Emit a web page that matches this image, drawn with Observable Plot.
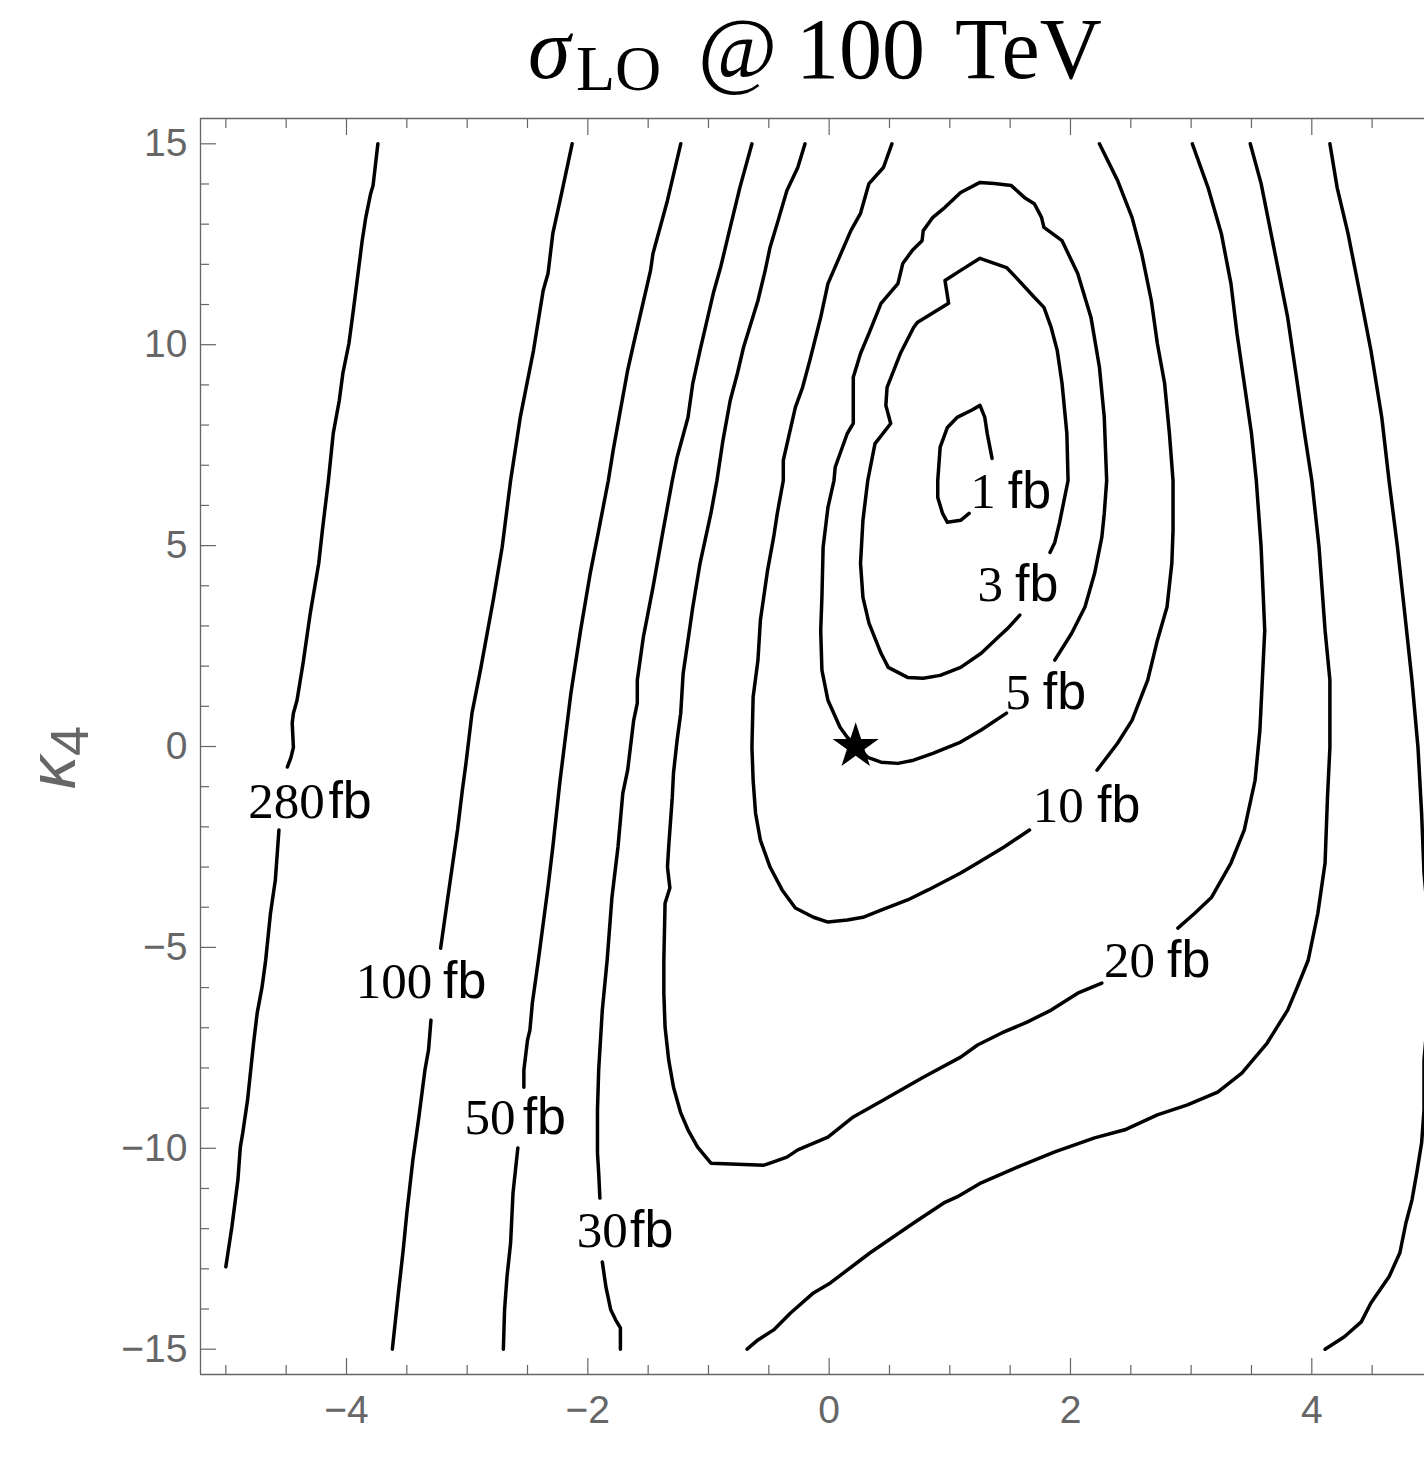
<!DOCTYPE html>
<html><head><meta charset="utf-8">
<script src="https://cdn.jsdelivr.net/npm/d3@7"></script>
<script src="https://cdn.jsdelivr.net/npm/@observablehq/plot@0.6"></script>
<style>html,body{margin:0;padding:0;background:#fff;overflow:hidden}</style>
</head><body><div id="chart"></div>
<script>
// ---- contour lines (data coordinates), each an array of open segments ----
const fb280 = [
 [[-3.74,15.0],[-3.78,13.96],[-3.80,13.76],[-3.84,13.17],[-3.87,12.59],[-3.94,10.93],[-3.98,10.03],[-4.03,9.29],[-4.06,8.61],[-4.11,7.79],[-4.15,6.62],[-4.20,5.38],[-4.23,4.56],[-4.30,3.32],[-4.36,2.07],[-4.41,1.15],[-4.44,0.83],[-4.45,0.58],[-4.44,-0.02],[-4.46,-0.27],[-4.49,-0.51]],
 [[-4.56,-2.08],[-4.59,-3.33],[-4.63,-4.15],[-4.67,-5.32],[-4.70,-5.99],[-4.74,-6.63],[-4.77,-7.38],[-4.80,-8.23],[-4.82,-8.80],[-4.86,-9.62],[-4.88,-9.97],[-4.90,-10.79],[-4.95,-11.96],[-5.00,-12.95]]
];
const fb100 = [
 [[-2.13,15.0],[-2.23,13.59],[-2.29,12.77],[-2.33,11.77],[-2.37,11.35],[-2.45,9.86],[-2.56,8.19],[-2.64,6.62],[-2.71,4.96],[-2.78,3.71],[-2.89,1.90],[-2.96,0.83],[-3.01,-0.42],[-3.04,-1.09],[-3.08,-2.08],[-3.16,-3.75],[-3.22,-5.02]],
 [[-3.30,-6.81],[-3.32,-7.55],[-3.35,-8.05],[-3.40,-9.22],[-3.45,-10.29],[-3.50,-11.61],[-3.53,-12.53],[-3.57,-13.60],[-3.62,-15.0]]
];
const fb50 = [
 [[-1.23,15.0],[-1.34,13.59],[-1.46,12.27],[-1.48,11.85],[-1.62,10.03],[-1.67,9.36],[-1.73,8.37],[-1.79,7.37],[-1.83,6.62],[-1.91,5.38],[-1.98,4.31],[-2.06,2.89],[-2.14,1.33],[-2.23,-0.84],[-2.29,-2.50],[-2.33,-3.50],[-2.41,-5.32],[-2.46,-6.39],[-2.48,-7.06],[-2.50,-7.31],[-2.53,-8.05],[-2.53,-8.48]],
 [[-2.58,-9.99],[-2.62,-11.11],[-2.64,-12.36],[-2.67,-13.20],[-2.69,-14.02],[-2.70,-15.0]],
 [[4.15,15.0],[4.21,13.91],[4.30,12.77],[4.41,11.10],[4.49,9.86],[4.58,8.19],[4.64,6.62],[4.71,4.96],[4.77,3.32],[4.83,1.65],[4.88,-0.02],[4.91,-1.66],[4.93,-3.15],[5.00,-5.44],[4.93,-7.80],[4.93,-9.05],[4.91,-9.87],[4.87,-10.61],[4.83,-11.29],[4.78,-11.86],[4.73,-12.60],[4.64,-13.20],[4.49,-13.85],[4.41,-14.32],[4.27,-14.69],[4.11,-15.0]]
];
const fb30 = [
 [[-0.64,15.0],[-0.74,13.91],[-0.82,12.92],[-0.90,11.92],[-0.96,11.28],[-1.07,9.86],[-1.13,9.04],[-1.17,8.19],[-1.26,7.20],[-1.30,6.62],[-1.38,5.31],[-1.46,3.96],[-1.54,2.72],[-1.59,1.65],[-1.59,1.08],[-1.62,0.65],[-1.67,-0.59],[-1.71,-1.16],[-1.75,-2.50],[-1.80,-3.75],[-1.84,-5.32],[-1.88,-6.56],[-1.91,-8.05],[-1.92,-9.05],[-1.92,-10.12],[-1.91,-10.61],[-1.90,-11.24]],
 [[-1.88,-12.83],[-1.85,-13.45],[-1.81,-14.02],[-1.77,-14.27],[-1.73,-14.47],[-1.73,-15.0]],
 [[3.49,15.0],[3.58,14.01],[3.69,12.35],[3.80,10.68],[3.88,9.04],[3.94,7.79],[4.00,6.62],[4.06,4.96],[4.11,2.89],[4.15,1.65],[4.15,-0.02],[4.13,-1.26],[4.11,-2.90],[4.05,-4.15],[3.97,-5.32],[3.88,-5.99],[3.80,-6.56],[3.63,-7.38],[3.42,-8.13],[3.22,-8.60],[2.97,-8.92],[2.72,-9.17],[2.45,-9.54],[2.20,-9.74],[1.87,-10.09],[1.56,-10.47],[1.26,-10.86],[1.06,-11.21],[0.95,-11.36],[0.70,-11.86],[0.34,-12.60],[0.01,-13.35],[-0.13,-13.60],[-0.32,-14.10],[-0.46,-14.52],[-0.59,-14.77],[-0.68,-15.0]]
];
const fb20 = [
 [[-0.20,15.0],[-0.26,14.41],[-0.35,13.84],[-0.43,13.02],[-0.49,12.42],[-0.53,11.85],[-0.59,11.10],[-0.71,9.93],[-0.76,9.29],[-0.82,8.61],[-0.88,7.62],[-0.93,6.62],[-0.98,5.80],[-1.07,4.56],[-1.13,3.47],[-1.17,2.64],[-1.21,1.82],[-1.23,0.83],[-1.26,0.16],[-1.29,-0.66],[-1.30,-1.26],[-1.33,-2.50],[-1.34,-3.00],[-1.32,-3.52],[-1.36,-3.90],[-1.37,-5.32],[-1.37,-6.14],[-1.36,-6.98],[-1.33,-7.80],[-1.29,-8.48],[-1.23,-9.12],[-1.17,-9.54],[-1.09,-9.97],[-0.98,-10.37],[-0.54,-10.42],[-0.49,-10.37],[-0.35,-10.22],[-0.26,-10.04],[-0.01,-9.72],[0.20,-9.22],[0.45,-8.80],[0.78,-8.23],[1.09,-7.73],[1.23,-7.43],[1.43,-7.13],[1.64,-6.86],[1.84,-6.56],[2.06,-6.14],[2.26,-5.89]],
 [[2.89,-4.52],[3.03,-4.15],[3.17,-3.75],[3.33,-2.90],[3.44,-2.08],[3.53,-0.84],[3.57,0.41],[3.59,1.65],[3.61,2.89],[3.58,4.96],[3.54,6.62],[3.50,7.79],[3.44,9.04],[3.38,10.28],[3.33,11.52],[3.25,12.77],[3.14,13.91],[3.01,15.0]]
];
const fb10 = [
 [[0.52,15.0],[0.45,14.41],[0.33,14.01],[0.26,13.27],[0.18,12.84],[-0.01,11.52],[-0.07,10.68],[-0.16,9.61],[-0.22,8.94],[-0.28,8.44],[-0.38,7.12],[-0.38,6.62],[-0.43,5.80],[-0.46,5.21],[-0.51,4.39],[-0.57,3.14],[-0.59,2.15],[-0.63,1.23],[-0.64,-0.02],[-0.63,-0.84],[-0.61,-1.66],[-0.57,-2.33],[-0.49,-3.00],[-0.39,-3.57],[-0.28,-4.02],[-0.13,-4.25],[-0.01,-4.37],[0.15,-4.32],[0.28,-4.25],[0.43,-4.07],[0.65,-3.82],[0.82,-3.57],[1.09,-3.15],[1.23,-2.90],[1.45,-2.50],[1.66,-2.08]],
 [[2.22,-0.59],[2.39,0.08],[2.51,0.65],[2.64,1.65],[2.72,2.64],[2.80,3.47],[2.84,4.56],[2.85,5.38],[2.85,6.62],[2.82,7.79],[2.78,9.04],[2.72,10.03],[2.67,11.10],[2.59,12.27],[2.51,13.17],[2.39,14.09],[2.24,15.0]]
];
const fb5 = [
 [[1.87,2.15],[2.01,2.82],[2.12,3.47],[2.20,4.31],[2.26,5.21],[2.28,5.80],[2.30,6.62],[2.28,8.19],[2.24,9.44],[2.17,10.68],[2.06,11.77],[1.93,12.59],[1.78,12.92],[1.76,13.17],[1.70,13.51],[1.62,13.66],[1.51,13.96],[1.37,14.01],[1.25,14.04],[1.09,13.79],[0.96,13.42],[0.86,13.17],[0.78,12.84],[0.77,12.59],[0.69,12.35],[0.61,12.02],[0.57,11.52],[0.43,11.03],[0.33,10.28],[0.26,9.78],[0.20,9.19],[0.20,8.04],[0.15,7.79],[0.05,6.95],[0.04,6.62],[-0.01,5.95],[-0.05,4.96],[-0.06,3.71],[-0.07,2.89],[-0.06,1.90],[-0.01,1.15],[0.09,0.48],[0.15,0.23],[0.32,-0.27],[0.43,-0.39],[0.57,-0.42],[0.70,-0.34],[0.86,-0.17],[1.09,0.11],[1.26,0.41],[1.47,0.83]]
];
const fb3 = [
 [[1.58,3.27],[1.48,2.94],[1.40,2.72],[1.26,2.32],[1.09,1.97],[0.92,1.77],[0.78,1.70],[0.65,1.72],[0.49,1.97],[0.43,2.32],[0.33,3.07],[0.28,3.71],[0.26,4.56],[0.28,5.63],[0.32,6.62],[0.38,7.54],[0.51,8.04],[0.47,8.49],[0.48,8.94],[0.59,9.78],[0.70,10.43],[0.73,10.55],[0.99,11.03],[0.96,11.60],[1.09,11.85],[1.25,12.15],[1.47,11.92],[1.55,11.67],[1.70,11.18],[1.78,10.93],[1.84,10.43],[1.89,9.86],[1.93,9.04],[1.97,7.79],[1.98,6.62],[1.91,5.58],[1.87,5.08],[1.83,4.83]]
];
const fb1 = [
 [[1.35,7.17],[1.31,7.79],[1.29,8.19],[1.25,8.49],[1.18,8.37],[1.06,8.19],[0.98,7.94],[0.92,7.45],[0.90,6.62],[0.90,6.20],[0.94,5.80],[0.98,5.58],[1.09,5.63],[1.16,5.80]]
];

// ---- contour labels ----
const labelValues   = ["280", "100", "50", "30", "20", "10", "5", "3", "1"];
const labelNumEndX  = [-4.18, -3.29, -2.60, -1.67, 2.70, 2.11, 1.67, 1.44, 1.38];
const labelFbStartX = [-4.15, -3.20, -2.54, -1.65, 2.80, 2.22, 1.77, 1.54, 1.48];
const labelBaseY    = [-1.78, -6.26, -9.64, -12.45, -5.74, -1.88, 0.93, 3.61, 5.93];

// ---- reference point (star) ----
const starX = [0.22];
const starY = [0.0];

// ---- axes ----
const xMajorTicks = [-4, -2, 0, 2, 4];
const xMinorTicks = [-5, -4.5, -3.5, -3, -2.5, -1.5, -1, -0.5, 0.5, 1, 1.5, 2.5, 3, 3.5, 4.5];
const yMajorTicks = [-15, -10, -5, 0, 5, 10, 15];
const yMinorTicks = [-14, -13, -12, -11, -9, -8, -7, -6, -4, -3, -2, -1, 1, 2, 3, 4, 6, 7, 8, 9, 11, 12, 13, 14];
const xDomain = [-5.21, 4.934];
const yDomain = [-15.63, 15.63];

// ---- build tables ----
const contourLevels = [["280", fb280], ["100", fb100], ["50", fb50], ["30", fb30], ["20", fb20], ["10", fb10], ["5", fb5], ["3", fb3], ["1", fb1]];
const rows = [];
contourLevels.forEach(([level, segs]) => segs.forEach((seg, i) => seg.forEach(([x, y]) => rows.push({level, seg: level + "-" + i, x, y}))));
const labels = labelValues.map((v, i) => ({num: v, xn: labelNumEndX[i], xf: labelFbStartX[i], y: labelBaseY[i]}));
const stars = starX.map((x, i) => ({x, y: starY[i]}));

const gray = "#666666";
const fmt = d => (d < 0 ? "\u2212" + (-d) : String(d));
const sans = "'Liberation Sans', Arial, Helvetica, sans-serif";
const serif = "'Liberation Serif', 'Times New Roman', serif";

const svg = Plot.plot({
  width: 1424, height: 1457,
  marginTop: 118, marginBottom: 83, marginLeft: 200, marginRight: 0,
  x: {domain: xDomain, label: null},
  y: {domain: yDomain, label: null},
  style: {fontFamily: sans, background: "white", color: gray},
  marks: [
    Plot.ruleX([xDomain[0]], {stroke: gray, strokeWidth: 1.3}),
    Plot.ruleY(yDomain, {stroke: gray, strokeWidth: 1.3}),
    Plot.axisX(xMinorTicks, {anchor: "bottom", tickSize: -9, stroke: gray, strokeWidth: 1.2, fill: "none", label: null}),
    Plot.axisX(xMajorTicks, {anchor: "bottom", tickSize: -16, stroke: gray, strokeWidth: 1.2, fill: "none", label: null}),
    Plot.axisX(xMajorTicks, {anchor: "bottom", tickSize: 0, tickPadding: 21, fill: gray, fontSize: 39, tickFormat: fmt, label: null}),
    Plot.axisX(xMinorTicks, {anchor: "top", tickSize: -9, stroke: gray, strokeWidth: 1.2, fill: "none", label: null}),
    Plot.axisX(xMajorTicks, {anchor: "top", tickSize: -16, stroke: gray, strokeWidth: 1.2, fill: "none", label: null}),
    Plot.axisY(yMinorTicks, {anchor: "left", tickSize: -9, stroke: gray, strokeWidth: 1.2, fill: "none", label: null}),
    Plot.axisY(yMajorTicks, {anchor: "left", tickSize: -16, stroke: gray, strokeWidth: 1.2, fill: "none", label: null}),
    Plot.axisY(yMajorTicks, {anchor: "left", tickSize: 0, tickPadding: 13, fill: gray, fontSize: 39, tickFormat: fmt, label: null}),
    Plot.line(rows, {x: "x", y: "y", z: "seg", stroke: "black", strokeWidth: 3.5, strokeLinejoin: "round", clip: true}),
    Plot.dot(stars, {x: "x", y: "y", symbol: "star", r: 14.5, fill: "black", stroke: "none"}),
    Plot.text(labels, {x: "xn", y: "y", text: "num", textAnchor: "end", lineAnchor: "bottom", fontFamily: serif, fontSize: 51, fill: "black"}),
    Plot.text(labels, {x: "xf", y: "y", text: () => "fb", textAnchor: "start", lineAnchor: "bottom", fontFamily: sans, fontSize: 52, fill: "black"})
  ]
});

// title
const s = d3.select(svg);
const t = s.append("text").attr("y", 78).attr("text-anchor", "start").attr("font-family", serif).attr("font-size", 86).attr("fill", "black");
t.append("tspan").attr("x", 528).attr("font-style", "italic").text("σ");
t.append("tspan").attr("x", 576).attr("y", 90).attr("font-size", 64).text("LO");
t.append("tspan").attr("x", 698).attr("y", 78).text("@");
t.append("tspan").attr("x", 796).attr("y", 78).text("100");
t.append("tspan").attr("x", 955).attr("y", 78).text("TeV");

// y-axis label
const yl = s.append("text").attr("transform", "translate(75,789) rotate(-90)").attr("text-anchor", "start").attr("font-family", sans).attr("fill", gray);
yl.append("tspan").attr("font-style", "italic").attr("font-size", 66).text("κ");
yl.append("tspan").attr("font-size", 54).attr("dy", 13).text("4");

document.getElementById("chart").appendChild(svg);
</script>
</body></html>
